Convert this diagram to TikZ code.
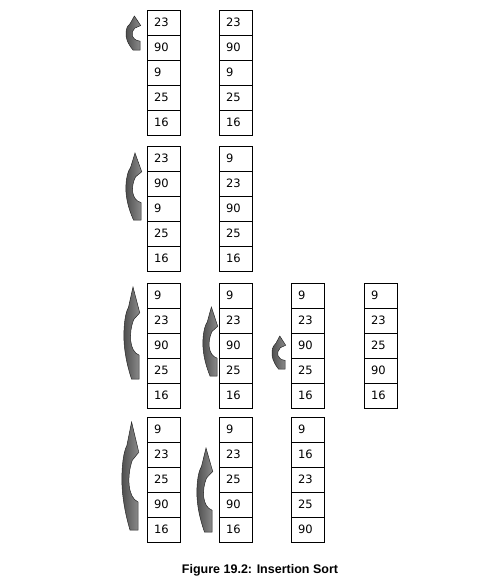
\documentclass[tikz,border=0pt]{standalone}
\usepackage{fontspec}
\newfontfamily\numfont{DejaVu Sans}
\newfontfamily\capfont{Liberation Sans}
\tikzset{
  cell/.style={draw, line width=0.7pt, minimum width=33pt, minimum height=25pt,
    text width=19pt, inner xsep=7pt, inner ysep=0pt, align=left,
    font=\numfont\fontsize{11.5}{13}\selectfont},
  arrowfill/.style={draw=black!85, line width=0.5pt, left color=black!70, right color=black!45},
  caption/.style={font=\capfont\bfseries\fontsize{12.5}{14}\selectfont}
}
\newcommand\cellcolumn[4]{%
  \foreach \v [count=\i] in {#4} {
    \node[cell] (#1-\i) at (#2+16.5, #3+12.5+25*\i-25) {\v};
  }}
\newcommand\bendarrow[4]{%
  \pgfmathsetmacro\aw{#2-#1}\pgfmathsetmacro\ah{#4-#3}%
  \begin{scope}[shift={(#1,#4)}, x={(\aw pt,0pt)}, y={(0pt,\ah pt)}]
    \shadedraw[arrowfill] (0.6,1) -- (1.05,0.72) -- (0.64,0.645)
      .. controls (0.3,0.5) and (0.35,0.3) .. (1,0.26) -- (1,0) -- (0.5,0)
      .. controls (0.1,0.2) and (-0.05,0.38) .. (0,0.53)
      .. controls (0.03,0.65) and (0.15,0.74) .. (0.3,0.78) -- cycle;
  \end{scope}}
\begin{document}
\begin{tikzpicture}[x=1pt, y=-1pt]
\useasboundingbox (0,0) rectangle (477,582);
% row 1
\cellcolumn{a1}{147}{10}{23,90,9,25,16}
\cellcolumn{a2}{219}{10}{23,90,9,25,16}
\bendarrow{126}{140}{16}{50}
% row 2
\cellcolumn{b1}{147}{146}{23,90,9,25,16}
\cellcolumn{b2}{219}{146}{9,23,90,25,16}
\bendarrow{126}{141}{153}{220}
% row 3
\cellcolumn{c1}{147}{283}{9,23,90,25,16}
\cellcolumn{c2}{219}{283}{9,23,90,25,16}
\cellcolumn{c3}{291}{283}{9,23,90,25,16}
\cellcolumn{c4}{364}{283}{9,23,25,90,16}
\bendarrow{124}{139}{287}{379}
\bendarrow{203}{217}{307}{376}
\bendarrow{272}{285}{336}{369}
% row 4
\cellcolumn{d1}{147}{417}{9,23,25,90,16}
\cellcolumn{d2}{219}{417}{9,23,25,90,16}
\cellcolumn{d3}{291}{417}{9,16,23,25,90}
\bendarrow{122}{138}{422}{530}
\bendarrow{197}{212}{448}{532}
% caption
\node[caption] (cap) at (260,570) {Figure 19.2: Insertion Sort};
\end{tikzpicture}
\end{document}
